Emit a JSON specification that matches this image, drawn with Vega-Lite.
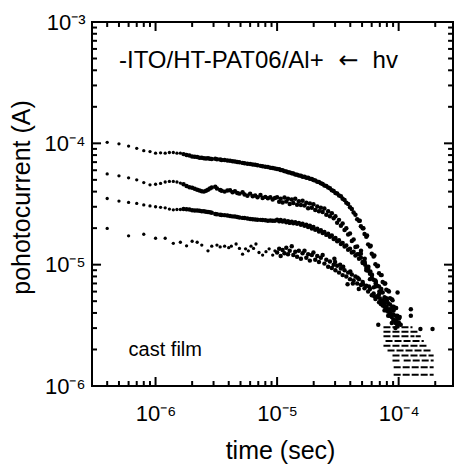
{
"$schema": "https://vega.github.io/schema/vega-lite/v6.json",
"width": 361, "height": 364,
"autosize": {"type": "none"},
"padding": {"left": 92, "top": 22, "right": 7, "bottom": 82},
"background": "white",
"config": {
 "font": "Liberation Sans",
 "view": {"stroke": "black", "strokeWidth": 2, "fill": null},
 "axis": {"domain": false, "grid": false, "ticks": false, "labelColor": "black", "titleColor": "black", "labelFont": "Liberation Sans", "titleFont": "Liberation Sans", "titleFontWeight": "normal", "labelFontSize": 22, "titleFontSize": 25, "labelOverlap": false, "labelBound": false, "labelFlush": false}
},
"datasets": {
 "curves": [
{"s":"A","t":4e-7,"i":1.02e-4},{"s":"A","t":5e-7,"i":9.9e-5},{"s":"A","t":6e-7,"i":9.5e-5},{"s":"A","t":7e-7,"i":9.1e-5},{"s":"A","t":8e-7,"i":8.7e-5},{"s":"A","t":9e-7,"i":8.55e-5},{"s":"A","t":1e-6,"i":8.3e-5},{"s":"A","t":1.1e-6,"i":8.35e-5},{"s":"A","t":1.2e-6,"i":8.3e-5},{"s":"A","t":1.3e-6,"i":8.4e-5},{"s":"A","t":1.4e-6,"i":8.4e-5},{"s":"A","t":1.5e-6,"i":8.3e-5},{"s":"A","t":1.6e-6,"i":8.3e-5},
{"s":"A","t":1.7e-6,"i":8.15e-5},{"s":"A","t":1.8e-6,"i":8.0e-5},{"s":"A","t":1.9e-6,"i":7.95e-5},{"s":"A","t":2.0e-6,"i":7.8e-5},{"s":"A","t":2.1e-6,"i":7.75e-5},{"s":"A","t":2.2e-6,"i":7.7e-5},{"s":"A","t":2.3e-6,"i":7.62e-5},{"s":"A","t":2.4e-6,"i":7.6e-5},{"s":"A","t":2.5e-6,"i":7.55e-5},{"s":"A","t":2.6e-6,"i":7.5e-5},{"s":"A","t":2.7e-6,"i":7.52e-5},{"s":"A","t":2.8e-6,"i":7.45e-5},{"s":"A","t":2.9e-6,"i":7.42e-5},{"s":"A","t":3.1e-6,"i":7.45e-5},{"s":"A","t":3.2e-6,"i":7.38e-5},{"s":"A","t":3.4e-6,"i":7.35e-5},{"s":"A","t":3.5e-6,"i":7.3e-5},{"s":"A","t":3.7e-6,"i":7.28e-5},{"s":"A","t":3.9e-6,"i":7.22e-5},{"s":"A","t":4.1e-6,"i":7.18e-5},{"s":"A","t":4.3e-6,"i":7.12e-5},{"s":"A","t":4.5e-6,"i":7.08e-5},{"s":"A","t":4.7e-6,"i":7.02e-5},{"s":"A","t":4.9e-6,"i":6.98e-5},{"s":"A","t":5.2e-6,"i":6.9e-5},{"s":"A","t":5.4e-6,"i":6.86e-5},{"s":"A","t":5.7e-6,"i":6.8e-5},{"s":"A","t":6.0e-6,"i":6.76e-5},{"s":"A","t":6.3e-6,"i":6.7e-5},{"s":"A","t":6.6e-6,"i":6.65e-5},{"s":"A","t":6.9e-6,"i":6.6e-5},{"s":"A","t":7.3e-6,"i":6.52e-5},{"s":"A","t":7.6e-6,"i":6.48e-5},{"s":"A","t":8.0e-6,"i":6.42e-5},{"s":"A","t":8.4e-6,"i":6.37e-5},{"s":"A","t":8.8e-6,"i":6.3e-5},{"s":"A","t":9.2e-6,"i":6.25e-5},{"s":"A","t":9.6e-6,"i":6.2e-5},
{"s":"A","t":1.0e-5,"i":6.15e-5},{"s":"A","t":1.04e-5,"i":6.12e-5},{"s":"A","t":1.07e-5,"i":6.03e-5},{"s":"A","t":1.11e-5,"i":6.0e-5},{"s":"A","t":1.15e-5,"i":5.9e-5},{"s":"A","t":1.19e-5,"i":5.87e-5},{"s":"A","t":1.23e-5,"i":5.78e-5},{"s":"A","t":1.27e-5,"i":5.75e-5},{"s":"A","t":1.32e-5,"i":5.66e-5},{"s":"A","t":1.36e-5,"i":5.65e-5},{"s":"A","t":1.41e-5,"i":5.53e-5},{"s":"A","t":1.46e-5,"i":5.52e-5},{"s":"A","t":1.51e-5,"i":5.43e-5},{"s":"A","t":1.57e-5,"i":5.4e-5},{"s":"A","t":1.62e-5,"i":5.3e-5},{"s":"A","t":1.68e-5,"i":5.3e-5},{"s":"A","t":1.74e-5,"i":5.2e-5},{"s":"A","t":1.80e-5,"i":5.2e-5},{"s":"A","t":1.86e-5,"i":5.1e-5},{"s":"A","t":1.93e-5,"i":5.08e-5},{"s":"A","t":1.99e-5,"i":4.98e-5},{"s":"A","t":2.06e-5,"i":4.94e-5},{"s":"A","t":2.14e-5,"i":4.83e-5},{"s":"A","t":2.21e-5,"i":4.8e-5},{"s":"A","t":2.29e-5,"i":4.68e-5},{"s":"A","t":2.37e-5,"i":4.62e-5},{"s":"A","t":2.45e-5,"i":4.5e-5},{"s":"A","t":2.54e-5,"i":4.45e-5},{"s":"A","t":2.63e-5,"i":4.32e-5},{"s":"A","t":2.72e-5,"i":4.27e-5},{"s":"A","t":2.82e-5,"i":4.1e-5},{"s":"A","t":2.92e-5,"i":4.05e-5},{"s":"A","t":3.02e-5,"i":3.9e-5},{"s":"A","t":3.12e-5,"i":3.86e-5},{"s":"A","t":3.23e-5,"i":3.72e-5},{"s":"A","t":3.35e-5,"i":3.66e-5},{"s":"A","t":3.46e-5,"i":3.5e-5},{"s":"A","t":3.59e-5,"i":3.41e-5},{"s":"A","t":3.71e-5,"i":3.24e-5},{"s":"A","t":3.84e-5,"i":3.16e-5},{"s":"A","t":3.98e-5,"i":2.97e-5},{"s":"A","t":4.12e-5,"i":2.88e-5},{"s":"A","t":4.26e-5,"i":2.69e-5},{"s":"A","t":4.41e-5,"i":2.58e-5},{"s":"A","t":4.56e-5,"i":2.37e-5},{"s":"A","t":4.72e-5,"i":2.3e-5},{"s":"A","t":4.89e-5,"i":2.07e-5},{"s":"A","t":5.06e-5,"i":2.0e-5},{"s":"A","t":5.24e-5,"i":1.79e-5},{"s":"A","t":5.42e-5,"i":1.7e-5},{"s":"A","t":5.61e-5,"i":1.47e-5},{"s":"A","t":5.81e-5,"i":1.41e-5},{"s":"A","t":6.01e-5,"i":1.23e-5},{"s":"A","t":6.22e-5,"i":1.17e-5},{"s":"A","t":6.44e-5,"i":1.01e-5},{"s":"A","t":6.67e-5,"i":9.7e-6},{"s":"A","t":6.90e-5,"i":8.5e-6},{"s":"A","t":7.14e-5,"i":8.2e-6},{"s":"A","t":7.39e-5,"i":7.2e-6},{"s":"A","t":7.65e-5,"i":7.0e-6},{"s":"A","t":7.92e-5,"i":6.2e-6},{"s":"A","t":8.20e-5,"i":6.1e-6},{"s":"A","t":8.49e-5,"i":5.3e-6},{"s":"A","t":8.78e-5,"i":5.2e-6},{"s":"A","t":9.09e-5,"i":4.5e-6},{"s":"A","t":9.41e-5,"i":4.4e-6},{"s":"A","t":9.74e-5,"i":3.8e-6},{"s":"A","t":1.008e-4,"i":3.6e-6},
{"s":"A","t":4.79e-5,"i":2.3e-5},{"s":"A","t":5.13e-5,"i":2.0e-5},{"s":"A","t":5.5e-5,"i":1.74e-5},{"s":"A","t":5.89e-5,"i":1.43e-5},{"s":"A","t":6.31e-5,"i":1.19e-5},{"s":"A","t":6.76e-5,"i":9.8e-6},{"s":"A","t":7.25e-5,"i":8.2e-6},{"s":"A","t":7.76e-5,"i":7.0e-6},{"s":"A","t":8.32e-5,"i":6.0e-6},{"s":"A","t":8.91e-5,"i":5.1e-6},{"s":"A","t":9.54e-5,"i":4.4e-6},{"s":"A","t":1.02e-4,"i":3.7e-6},
{"s":"B","t":4e-7,"i":5.6e-5},{"s":"B","t":5e-7,"i":5.4e-5},{"s":"B","t":6e-7,"i":5.2e-5},{"s":"B","t":7e-7,"i":5.0e-5},{"s":"B","t":8e-7,"i":4.75e-5},{"s":"B","t":9e-7,"i":4.55e-5},{"s":"B","t":1e-6,"i":4.6e-5},{"s":"B","t":1.1e-6,"i":4.67e-5},{"s":"B","t":1.2e-6,"i":4.8e-5},{"s":"B","t":1.3e-6,"i":4.85e-5},{"s":"B","t":1.4e-6,"i":4.85e-5},{"s":"B","t":1.5e-6,"i":4.8e-5},{"s":"B","t":1.6e-6,"i":4.7e-5},
{"s":"B","t":1.7e-6,"i":4.6e-5},{"s":"B","t":1.8e-6,"i":4.45e-5},{"s":"B","t":1.9e-6,"i":4.35e-5},{"s":"B","t":2.0e-6,"i":4.3e-5},{"s":"B","t":2.1e-6,"i":4.22e-5},{"s":"B","t":2.2e-6,"i":4.15e-5},{"s":"B","t":2.3e-6,"i":4.08e-5},{"s":"B","t":2.4e-6,"i":4.02e-5},{"s":"B","t":2.5e-6,"i":4.0e-5},{"s":"B","t":2.6e-6,"i":4.06e-5},{"s":"B","t":2.7e-6,"i":4.14e-5},{"s":"B","t":2.8e-6,"i":4.25e-5},{"s":"B","t":2.9e-6,"i":4.32e-5},{"s":"B","t":3.1e-6,"i":4.38e-5},{"s":"B","t":3.2e-6,"i":4.25e-5},{"s":"B","t":3.4e-6,"i":4.12e-5},{"s":"B","t":3.5e-6,"i":4.06e-5},{"s":"B","t":3.7e-6,"i":4.0e-5},{"s":"B","t":3.9e-6,"i":4.08e-5},{"s":"B","t":4.1e-6,"i":4.1e-5},{"s":"B","t":4.3e-6,"i":3.95e-5},{"s":"B","t":4.5e-6,"i":4.02e-5},{"s":"B","t":4.7e-6,"i":3.9e-5},{"s":"B","t":4.9e-6,"i":3.85e-5},{"s":"B","t":5.2e-6,"i":3.95e-5},{"s":"B","t":5.4e-6,"i":3.78e-5},{"s":"B","t":5.7e-6,"i":3.7e-5},{"s":"B","t":6.0e-6,"i":3.85e-5},{"s":"B","t":6.3e-6,"i":3.66e-5},{"s":"B","t":6.6e-6,"i":3.72e-5},{"s":"B","t":6.9e-6,"i":3.6e-5},{"s":"B","t":7.3e-6,"i":3.75e-5},{"s":"B","t":7.6e-6,"i":3.55e-5},{"s":"B","t":8.0e-6,"i":3.62e-5},{"s":"B","t":8.4e-6,"i":3.52e-5},{"s":"B","t":8.8e-6,"i":3.6e-5},{"s":"B","t":9.2e-6,"i":3.45e-5},{"s":"B","t":9.6e-6,"i":3.55e-5},
{"s":"B","t":1.0e-5,"i":3.59e-5},{"s":"B","t":1.04e-5,"i":3.3e-5},{"s":"B","t":1.07e-5,"i":3.5e-5},{"s":"B","t":1.11e-5,"i":3.25e-5},{"s":"B","t":1.15e-5,"i":3.57e-5},{"s":"B","t":1.19e-5,"i":3.32e-5},{"s":"B","t":1.23e-5,"i":3.5e-5},{"s":"B","t":1.27e-5,"i":3.16e-5},{"s":"B","t":1.32e-5,"i":3.44e-5},{"s":"B","t":1.36e-5,"i":3.22e-5},{"s":"B","t":1.41e-5,"i":3.5e-5},{"s":"B","t":1.46e-5,"i":3.12e-5},{"s":"B","t":1.51e-5,"i":3.33e-5},{"s":"B","t":1.57e-5,"i":3.1e-5},{"s":"B","t":1.62e-5,"i":3.37e-5},{"s":"B","t":1.68e-5,"i":3.08e-5},{"s":"B","t":1.74e-5,"i":3.24e-5},{"s":"B","t":1.80e-5,"i":2.92e-5},{"s":"B","t":1.86e-5,"i":3.2e-5},{"s":"B","t":1.93e-5,"i":2.95e-5},{"s":"B","t":1.99e-5,"i":3.15e-5},{"s":"B","t":2.06e-5,"i":2.82e-5},{"s":"B","t":2.14e-5,"i":3.01e-5},{"s":"B","t":2.21e-5,"i":2.76e-5},{"s":"B","t":2.29e-5,"i":2.95e-5},{"s":"B","t":2.37e-5,"i":2.72e-5},{"s":"B","t":2.45e-5,"i":2.9e-5},{"s":"B","t":2.54e-5,"i":2.58e-5},{"s":"B","t":2.63e-5,"i":2.75e-5},{"s":"B","t":2.72e-5,"i":2.51e-5},{"s":"B","t":2.82e-5,"i":2.65e-5},{"s":"B","t":2.92e-5,"i":2.41e-5},{"s":"B","t":3.02e-5,"i":2.51e-5},{"s":"B","t":3.12e-5,"i":2.22e-5},{"s":"B","t":3.23e-5,"i":2.34e-5},{"s":"B","t":3.35e-5,"i":2.09e-5},{"s":"B","t":3.46e-5,"i":2.18e-5},{"s":"B","t":3.59e-5,"i":1.93e-5},{"s":"B","t":3.71e-5,"i":2.0e-5},{"s":"B","t":3.84e-5,"i":1.77e-5},{"s":"B","t":3.98e-5,"i":1.81e-5},{"s":"B","t":4.12e-5,"i":1.57e-5},{"s":"B","t":4.26e-5,"i":1.61e-5},{"s":"B","t":4.41e-5,"i":1.4e-5},{"s":"B","t":4.56e-5,"i":1.41e-5},{"s":"B","t":4.72e-5,"i":1.22e-5},{"s":"B","t":4.89e-5,"i":1.23e-5},{"s":"B","t":5.06e-5,"i":1.05e-5},{"s":"B","t":5.24e-5,"i":1.05e-5},{"s":"B","t":5.42e-5,"i":9.0e-6},{"s":"B","t":5.61e-5,"i":8.9e-6},{"s":"B","t":5.81e-5,"i":7.6e-6},{"s":"B","t":6.01e-5,"i":7.8e-6},{"s":"B","t":6.22e-5,"i":6.5e-6},{"s":"B","t":6.44e-5,"i":6.6e-6},{"s":"B","t":6.67e-5,"i":5.5e-6},{"s":"B","t":6.90e-5,"i":5.7e-6},{"s":"B","t":7.14e-5,"i":4.75e-6},{"s":"B","t":7.39e-5,"i":4.9e-6},{"s":"B","t":7.65e-5,"i":4.2e-6},{"s":"B","t":7.92e-5,"i":4.4e-6},{"s":"B","t":8.20e-5,"i":3.8e-6},{"s":"B","t":8.49e-5,"i":4.0e-6},{"s":"B","t":8.78e-5,"i":3.3e-6},{"s":"B","t":9.09e-5,"i":3.5e-6},{"s":"B","t":9.41e-5,"i":3.0e-6},{"s":"B","t":9.74e-5,"i":3.1e-6},
{"s":"B","t":4.9e-5,"i":1.3e-5},{"s":"B","t":5.26e-5,"i":1.12e-5},{"s":"B","t":5.64e-5,"i":9.6e-6},{"s":"B","t":6.04e-5,"i":8.2e-6},{"s":"B","t":6.47e-5,"i":7.0e-6},{"s":"B","t":6.94e-5,"i":6.0e-6},{"s":"B","t":7.43e-5,"i":5.1e-6},{"s":"B","t":7.96e-5,"i":4.5e-6},{"s":"B","t":8.53e-5,"i":4.0e-6},{"s":"B","t":9.13e-5,"i":3.5e-6},{"s":"B","t":9.79e-5,"i":3.2e-6},
{"s":"C","t":4e-7,"i":3.51e-5},{"s":"C","t":5e-7,"i":3.34e-5},{"s":"C","t":6e-7,"i":3.26e-5},{"s":"C","t":7e-7,"i":3.2e-5},{"s":"C","t":8e-7,"i":3.11e-5},{"s":"C","t":9e-7,"i":3.05e-5},{"s":"C","t":1e-6,"i":3.0e-5},{"s":"C","t":1.1e-6,"i":2.97e-5},{"s":"C","t":1.2e-6,"i":2.94e-5},{"s":"C","t":1.3e-6,"i":2.87e-5},{"s":"C","t":1.4e-6,"i":2.83e-5},{"s":"C","t":1.5e-6,"i":2.85e-5},{"s":"C","t":1.6e-6,"i":2.85e-5},
{"s":"C","t":1.7e-6,"i":2.87e-5},{"s":"C","t":1.8e-6,"i":2.86e-5},{"s":"C","t":1.9e-6,"i":2.85e-5},{"s":"C","t":2.0e-6,"i":2.81e-5},{"s":"C","t":2.1e-6,"i":2.8e-5},{"s":"C","t":2.2e-6,"i":2.8e-5},{"s":"C","t":2.3e-6,"i":2.78e-5},{"s":"C","t":2.4e-6,"i":2.76e-5},{"s":"C","t":2.5e-6,"i":2.75e-5},{"s":"C","t":2.6e-6,"i":2.73e-5},{"s":"C","t":2.7e-6,"i":2.72e-5},{"s":"C","t":2.8e-6,"i":2.7e-5},{"s":"C","t":2.9e-6,"i":2.68e-5},{"s":"C","t":3.1e-6,"i":2.62e-5},{"s":"C","t":3.2e-6,"i":2.6e-5},{"s":"C","t":3.4e-6,"i":2.58e-5},{"s":"C","t":3.5e-6,"i":2.57e-5},{"s":"C","t":3.7e-6,"i":2.56e-5},{"s":"C","t":3.9e-6,"i":2.54e-5},{"s":"C","t":4.1e-6,"i":2.52e-5},{"s":"C","t":4.3e-6,"i":2.5e-5},{"s":"C","t":4.5e-6,"i":2.49e-5},{"s":"C","t":4.7e-6,"i":2.47e-5},{"s":"C","t":4.9e-6,"i":2.45e-5},{"s":"C","t":5.2e-6,"i":2.43e-5},{"s":"C","t":5.4e-6,"i":2.42e-5},{"s":"C","t":5.7e-6,"i":2.4e-5},{"s":"C","t":6.0e-6,"i":2.38e-5},{"s":"C","t":6.3e-6,"i":2.37e-5},{"s":"C","t":6.6e-6,"i":2.36e-5},{"s":"C","t":6.9e-6,"i":2.35e-5},{"s":"C","t":7.3e-6,"i":2.34e-5},{"s":"C","t":7.6e-6,"i":2.33e-5},{"s":"C","t":8.0e-6,"i":2.32e-5},{"s":"C","t":8.4e-6,"i":2.3e-5},{"s":"C","t":8.8e-6,"i":2.31e-5},{"s":"C","t":9.2e-6,"i":2.3e-5},{"s":"C","t":9.6e-6,"i":2.3e-5},
{"s":"C","t":1.0e-5,"i":2.35e-5},{"s":"C","t":1.04e-5,"i":2.28e-5},{"s":"C","t":1.07e-5,"i":2.33e-5},{"s":"C","t":1.11e-5,"i":2.27e-5},{"s":"C","t":1.15e-5,"i":2.31e-5},{"s":"C","t":1.19e-5,"i":2.24e-5},{"s":"C","t":1.23e-5,"i":2.28e-5},{"s":"C","t":1.27e-5,"i":2.21e-5},{"s":"C","t":1.32e-5,"i":2.26e-5},{"s":"C","t":1.36e-5,"i":2.19e-5},{"s":"C","t":1.41e-5,"i":2.24e-5},{"s":"C","t":1.46e-5,"i":2.17e-5},{"s":"C","t":1.51e-5,"i":2.21e-5},{"s":"C","t":1.57e-5,"i":2.13e-5},{"s":"C","t":1.62e-5,"i":2.17e-5},{"s":"C","t":1.68e-5,"i":2.09e-5},{"s":"C","t":1.74e-5,"i":2.13e-5},{"s":"C","t":1.80e-5,"i":2.04e-5},{"s":"C","t":1.86e-5,"i":2.09e-5},{"s":"C","t":1.93e-5,"i":1.99e-5},{"s":"C","t":1.99e-5,"i":2.04e-5},{"s":"C","t":2.06e-5,"i":1.94e-5},{"s":"C","t":2.14e-5,"i":1.98e-5},{"s":"C","t":2.21e-5,"i":1.88e-5},{"s":"C","t":2.29e-5,"i":1.92e-5},{"s":"C","t":2.37e-5,"i":1.82e-5},{"s":"C","t":2.45e-5,"i":1.86e-5},{"s":"C","t":2.54e-5,"i":1.76e-5},{"s":"C","t":2.63e-5,"i":1.8e-5},{"s":"C","t":2.72e-5,"i":1.7e-5},{"s":"C","t":2.82e-5,"i":1.74e-5},{"s":"C","t":2.92e-5,"i":1.63e-5},{"s":"C","t":3.02e-5,"i":1.66e-5},{"s":"C","t":3.12e-5,"i":1.56e-5},{"s":"C","t":3.23e-5,"i":1.59e-5},{"s":"C","t":3.35e-5,"i":1.48e-5},{"s":"C","t":3.46e-5,"i":1.51e-5},{"s":"C","t":3.59e-5,"i":1.41e-5},{"s":"C","t":3.71e-5,"i":1.44e-5},{"s":"C","t":3.84e-5,"i":1.33e-5},{"s":"C","t":3.98e-5,"i":1.35e-5},{"s":"C","t":4.12e-5,"i":1.26e-5},{"s":"C","t":4.26e-5,"i":1.28e-5},{"s":"C","t":4.41e-5,"i":1.19e-5},{"s":"C","t":4.56e-5,"i":1.22e-5},{"s":"C","t":4.72e-5,"i":1.12e-5},{"s":"C","t":4.89e-5,"i":1.14e-5},{"s":"C","t":5.06e-5,"i":1.03e-5},{"s":"C","t":5.24e-5,"i":1.04e-5},{"s":"C","t":5.42e-5,"i":9.4e-6},{"s":"C","t":5.61e-5,"i":9.3e-6},{"s":"C","t":5.81e-5,"i":8.4e-6},{"s":"C","t":6.01e-5,"i":8.3e-6},{"s":"C","t":6.22e-5,"i":7.5e-6},{"s":"C","t":6.44e-5,"i":7.4e-6},{"s":"C","t":6.67e-5,"i":6.7e-6},{"s":"C","t":6.90e-5,"i":6.6e-6},{"s":"C","t":7.14e-5,"i":6.0e-6},{"s":"C","t":7.39e-5,"i":5.9e-6},{"s":"C","t":7.65e-5,"i":5.4e-6},{"s":"C","t":7.92e-5,"i":5.3e-6},{"s":"C","t":8.20e-5,"i":4.8e-6},{"s":"C","t":8.49e-5,"i":4.7e-6},{"s":"C","t":8.78e-5,"i":4.3e-6},{"s":"C","t":9.09e-5,"i":4.2e-6},{"s":"C","t":9.41e-5,"i":3.8e-6},{"s":"C","t":9.74e-5,"i":3.7e-6},{"s":"C","t":1.008e-4,"i":3.3e-6},
{"s":"C","t":5.3e-5,"i":1.0e-5},{"s":"C","t":5.85e-5,"i":8.8e-6},{"s":"C","t":6.5e-5,"i":7.2e-6},{"s":"C","t":7.2e-5,"i":6.3e-6},{"s":"C","t":8.0e-5,"i":5.1e-6},{"s":"C","t":8.85e-5,"i":4.5e-6},{"s":"C","t":9.8e-5,"i":3.6e-6},{"s":"C","t":1.04e-4,"i":3.2e-6},
{"s":"D","t":4e-7,"i":1.99e-5},{"s":"D","t":6e-7,"i":1.73e-5},{"s":"D","t":8e-7,"i":1.78e-5},{"s":"D","t":1.0e-6,"i":1.65e-5},{"s":"D","t":1.2e-6,"i":1.65e-5},{"s":"D","t":1.4e-6,"i":1.5e-5},{"s":"D","t":1.6e-6,"i":1.53e-5},{"s":"D","t":1.8e-6,"i":1.43e-5},{"s":"D","t":2.0e-6,"i":1.56e-5},{"s":"D","t":2.2e-6,"i":1.53e-5},{"s":"D","t":2.4e-6,"i":1.45e-5},{"s":"D","t":2.7e-6,"i":1.3e-5},{"s":"D","t":2.9e-6,"i":1.42e-5},{"s":"D","t":3.2e-6,"i":1.45e-5},{"s":"D","t":3.4e-6,"i":1.4e-5},{"s":"D","t":3.7e-6,"i":1.42e-5},{"s":"D","t":4.0e-6,"i":1.38e-5},{"s":"D","t":4.2e-6,"i":1.42e-5},{"s":"D","t":4.6e-6,"i":1.48e-5},{"s":"D","t":4.9e-6,"i":1.36e-5},{"s":"D","t":5.2e-6,"i":1.22e-5},{"s":"D","t":5.5e-6,"i":1.35e-5},{"s":"D","t":5.8e-6,"i":1.3e-5},{"s":"D","t":6.1e-6,"i":1.42e-5},{"s":"D","t":6.4e-6,"i":1.36e-5},{"s":"D","t":6.7e-6,"i":1.48e-5},{"s":"D","t":7.1e-6,"i":1.26e-5},{"s":"D","t":7.6e-6,"i":1.2e-5},{"s":"D","t":8.1e-6,"i":1.28e-5},{"s":"D","t":8.6e-6,"i":1.35e-5},{"s":"D","t":9.2e-6,"i":1.2e-5},{"s":"D","t":9.6e-6,"i":1.3e-5},
{"s":"D","t":1.0e-5,"i":1.26e-5},{"s":"D","t":1.04e-5,"i":1.35e-5},{"s":"D","t":1.07e-5,"i":1.18e-5},{"s":"D","t":1.11e-5,"i":1.32e-5},{"s":"D","t":1.15e-5,"i":1.24e-5},{"s":"D","t":1.19e-5,"i":1.38e-5},{"s":"D","t":1.23e-5,"i":1.22e-5},{"s":"D","t":1.27e-5,"i":1.3e-5},{"s":"D","t":1.32e-5,"i":1.42e-5},{"s":"D","t":1.36e-5,"i":1.2e-5},{"s":"D","t":1.41e-5,"i":1.28e-5},{"s":"D","t":1.46e-5,"i":1.16e-5},{"s":"D","t":1.51e-5,"i":1.3e-5},{"s":"D","t":1.57e-5,"i":1.12e-5},{"s":"D","t":1.62e-5,"i":1.24e-5},{"s":"D","t":1.68e-5,"i":1.3e-5},{"s":"D","t":1.74e-5,"i":1.14e-5},{"s":"D","t":1.80e-5,"i":1.22e-5},{"s":"D","t":1.86e-5,"i":1.08e-5},{"s":"D","t":1.93e-5,"i":1.2e-5},{"s":"D","t":1.99e-5,"i":1.26e-5},{"s":"D","t":2.06e-5,"i":1.1e-5},{"s":"D","t":2.14e-5,"i":1.18e-5},{"s":"D","t":2.21e-5,"i":1.05e-5},{"s":"D","t":2.29e-5,"i":1.14e-5},{"s":"D","t":2.37e-5,"i":1.2e-5},{"s":"D","t":2.45e-5,"i":1.02e-5},{"s":"D","t":2.54e-5,"i":1.1e-5},{"s":"D","t":2.63e-5,"i":9.6e-6},{"s":"D","t":2.72e-5,"i":1.06e-5},{"s":"D","t":2.82e-5,"i":9.4e-6},{"s":"D","t":2.92e-5,"i":1.0e-5},{"s":"D","t":2.96e-5,"i":1.12e-5},{"s":"D","t":3.02e-5,"i":9.0e-6},{"s":"D","t":3.12e-5,"i":9.8e-6},{"s":"D","t":3.23e-5,"i":8.6e-6},{"s":"D","t":3.30e-5,"i":1.0e-5},{"s":"D","t":3.35e-5,"i":9.3e-6},{"s":"D","t":3.46e-5,"i":8.2e-6},{"s":"D","t":3.59e-5,"i":9.0e-6},{"s":"D","t":3.71e-5,"i":8.0e-6},{"s":"D","t":3.80e-5,"i":6.9e-6},{"s":"D","t":3.84e-5,"i":8.6e-6},{"s":"D","t":3.98e-5,"i":7.6e-6},{"s":"D","t":4.12e-5,"i":8.3e-6},{"s":"D","t":4.20e-5,"i":7.0e-6},{"s":"D","t":4.26e-5,"i":7.4e-6},{"s":"D","t":4.41e-5,"i":8.0e-6},{"s":"D","t":4.56e-5,"i":7.0e-6},{"s":"D","t":4.70e-5,"i":6.3e-6},{"s":"D","t":4.72e-5,"i":7.6e-6},{"s":"D","t":4.89e-5,"i":6.8e-6},{"s":"D","t":5.06e-5,"i":7.2e-6},{"s":"D","t":5.24e-5,"i":6.4e-6},{"s":"D","t":5.42e-5,"i":6.7e-6},{"s":"D","t":5.61e-5,"i":6.0e-6},{"s":"D","t":5.81e-5,"i":6.3e-6},{"s":"D","t":6.01e-5,"i":5.6e-6},{"s":"D","t":6.22e-5,"i":5.8e-6},{"s":"D","t":6.44e-5,"i":5.2e-6},{"s":"D","t":6.67e-5,"i":5.4e-6},{"s":"D","t":6.80e-5,"i":3.2e-6},{"s":"D","t":6.90e-5,"i":4.9e-6},{"s":"D","t":7.14e-5,"i":5.0e-6},{"s":"D","t":7.39e-5,"i":4.6e-6},{"s":"D","t":7.65e-5,"i":4.5e-6},{"s":"D","t":7.92e-5,"i":4.2e-6},{"s":"D","t":8.20e-5,"i":4.1e-6},{"s":"D","t":8.49e-5,"i":3.8e-6},{"s":"D","t":8.78e-5,"i":3.7e-6},{"s":"D","t":9.09e-5,"i":3.5e-6},{"s":"D","t":9.41e-5,"i":3.3e-6},
{"s":"D","t":3.0e-5,"i":1.05e-5},{"s":"D","t":3.5e-5,"i":9.6e-6},{"s":"D","t":4.0e-5,"i":8.8e-6},{"s":"D","t":4.6e-5,"i":7.8e-6},{"s":"D","t":5.1e-5,"i":6.9e-6},{"s":"D","t":5.7e-5,"i":6.6e-6},{"s":"D","t":6.3e-5,"i":5.5e-6},{"s":"D","t":7.0e-5,"i":5.3e-6},{"s":"D","t":7.7e-5,"i":4.8e-6},{"s":"D","t":8.4e-5,"i":4.3e-6},{"s":"D","t":9.0e-5,"i":3.9e-6},{"s":"D","t":9.6e-5,"i":3.4e-6},
{"s":"D","t":9.80e-5,"i":5.9e-6},{"s":"D","t":1.26e-4,"i":4.3e-6},{"s":"D","t":1.26e-4,"i":3.8e-6},{"s":"D","t":1.51e-4,"i":2.95e-6},{"s":"D","t":1.90e-4,"i":2.95e-6}
 ],
 "bands": [
{"lv":3.05e-6,"a":7.5e-5,"b":1.3e-4},
{"lv":2.8e-6,"a":7.5e-5,"b":1.43e-4},
{"lv":2.57e-6,"a":7.5e-5,"b":1.35e-4},{"lv":2.57e-6,"a":1.38e-4,"b":1.52e-4},
{"lv":2.35e-6,"a":7.8e-5,"b":1.61e-4},
{"lv":2.15e-6,"a":7.5e-5,"b":1.73e-4},
{"lv":1.96e-6,"a":8.1e-5,"b":1.83e-4},
{"lv":1.78e-6,"a":8.9e-5,"b":1.94e-4},
{"lv":1.62e-6,"a":8.9e-5,"b":1.05e-4},{"lv":1.62e-6,"a":1.1e-4,"b":1.94e-4},
{"lv":1.43e-6,"a":9.1e-5,"b":1.94e-4},
{"lv":1.24e-6,"a":9.1e-5,"b":1.94e-4}
 ],
 "ticksX": [
{"v":4e-7,"k":"minor"},{"v":5e-7,"k":"minor"},{"v":6e-7,"k":"minor"},{"v":7e-7,"k":"minor"},{"v":8e-7,"k":"minor"},{"v":9e-7,"k":"minor"},{"v":1e-6,"k":"major"},
{"v":2e-6,"k":"minor"},{"v":3e-6,"k":"minor"},{"v":4e-6,"k":"minor"},{"v":5e-6,"k":"minor"},{"v":6e-6,"k":"minor"},{"v":7e-6,"k":"minor"},{"v":8e-6,"k":"minor"},{"v":9e-6,"k":"minor"},{"v":1e-5,"k":"major"},
{"v":2e-5,"k":"minor"},{"v":3e-5,"k":"minor"},{"v":4e-5,"k":"minor"},{"v":5e-5,"k":"minor"},{"v":6e-5,"k":"minor"},{"v":7e-5,"k":"minor"},{"v":8e-5,"k":"minor"},{"v":9e-5,"k":"minor"},{"v":1e-4,"k":"major"},{"v":2e-4,"k":"minor"}
 ],
 "ticksY": [
{"v":2e-6,"k":"minor"},{"v":3e-6,"k":"minor"},{"v":4e-6,"k":"minor"},{"v":5e-6,"k":"minor"},{"v":6e-6,"k":"minor"},{"v":7e-6,"k":"minor"},{"v":8e-6,"k":"minor"},{"v":9e-6,"k":"minor"},{"v":1e-5,"k":"major"},
{"v":2e-5,"k":"minor"},{"v":3e-5,"k":"minor"},{"v":4e-5,"k":"minor"},{"v":5e-5,"k":"minor"},{"v":6e-5,"k":"minor"},{"v":7e-5,"k":"minor"},{"v":8e-5,"k":"minor"},{"v":9e-5,"k":"minor"},{"v":1e-4,"k":"major"},
{"v":2e-4,"k":"minor"},{"v":3e-4,"k":"minor"},{"v":4e-4,"k":"minor"},{"v":5e-4,"k":"minor"},{"v":6e-4,"k":"minor"},{"v":7e-4,"k":"minor"},{"v":8e-4,"k":"minor"},{"v":9e-4,"k":"minor"}
 ],
 "notes": [
{"t":5e-7,"i":4.2e-4,"txt":"-ITO/HT-PAT06/Al+"},
{"t":6.1e-5,"i":4.2e-4,"txt":"hv"}
 ],
 "arrow": [
{"t":3.2e-5,"i":4.2e-4,"txt":"←"}
 ],
 "notes2": [
{"t":6.0e-7,"i":1.78e-6,"txt":"cast film"}
 ]
},
"layer": [
 {
  "data": {"name": "curves"},
  "transform": [{"filter": "(datum.s != 'D' && datum.t >= 1.65e-6) || datum.t >= 9.9e-6"}],
  "mark": {"type": "point", "filled": true, "size": 20, "opacity": 1, "color": "black"},
  "encoding": {
   "x": {"field": "t", "type": "quantitative", "scale": {"type": "log", "domain": [3e-7, 2.8e-4], "nice": false},
    "axis": {"orient": "bottom", "title": "time (sec)", "values": [1e-6,1e-5,1e-4],
     "labelExpr": "datum.value == 1e-6 ? '10⁻⁶' : datum.value == 1e-5 ? '10⁻⁵' : datum.value == 1e-4 ? '10⁻⁴' : ''",
     "labelPadding": 17, "titlePadding": 14, "titleX": 188}},
   "y": {"field": "i", "type": "quantitative", "scale": {"type": "log", "domain": [1e-6, 1e-3], "nice": false},
    "axis": {"orient": "left", "title": "pohotocurrent (A)", "values": [1e-6,1e-5,1e-4,1e-3],
     "labelExpr": "datum.value == 1e-6 ? '10⁻⁶' : datum.value == 1e-5 ? '10⁻⁵' : datum.value == 1e-4 ? '10⁻⁴' : datum.value == 1e-3 ? '10⁻³' : ''",
     "labelPadding": 7, "titleX": -58, "titleY": 175}}
  }
 },
 {
  "data": {"name": "curves"},
  "transform": [{"filter": "!((datum.s != 'D' && datum.t >= 1.65e-6) || datum.t >= 9.9e-6)"}],
  "mark": {"type": "point", "filled": true, "size": 11, "opacity": 1, "color": "black"},
  "encoding": {
   "x": {"field": "t", "type": "quantitative", "axis": null},
   "y": {"field": "i", "type": "quantitative", "axis": null}
  }
 },
 {
  "data": {"name": "bands"},
  "mark": {"type": "rule", "color": "black", "strokeWidth": 2, "strokeDash": [7, 2]},
  "encoding": {
   "x": {"field": "a", "type": "quantitative", "axis": null},
   "x2": {"field": "b"},
   "y": {"field": "lv", "type": "quantitative", "axis": null}
  }
 },
 {
  "data": {"name": "ticksX"},
  "transform": [{"filter": "datum.k == 'major'"}],
  "mark": {"type": "rule", "color": "black", "strokeWidth": 2},
  "encoding": {"x": {"field": "v", "type": "quantitative", "axis": null}, "y": {"datum": 1e-6, "type": "quantitative", "axis": null}, "y2": {"datum": 1.186e-6}}
 },
 {
  "data": {"name": "ticksX"},
  "transform": [{"filter": "datum.k == 'minor'"}],
  "mark": {"type": "rule", "color": "black", "strokeWidth": 2},
  "encoding": {"x": {"field": "v", "type": "quantitative", "axis": null}, "y": {"datum": 1e-6, "type": "quantitative", "axis": null}, "y2": {"datum": 1.099e-6}}
 },
 {
  "data": {"name": "ticksX"},
  "transform": [{"filter": "datum.k == 'major'"}],
  "mark": {"type": "rule", "color": "black", "strokeWidth": 2},
  "encoding": {"x": {"field": "v", "type": "quantitative", "axis": null}, "y": {"datum": 1e-3, "type": "quantitative", "axis": null}, "y2": {"datum": 8.43e-4}}
 },
 {
  "data": {"name": "ticksX"},
  "transform": [{"filter": "datum.k == 'minor'"}],
  "mark": {"type": "rule", "color": "black", "strokeWidth": 2},
  "encoding": {"x": {"field": "v", "type": "quantitative", "axis": null}, "y": {"datum": 1e-3, "type": "quantitative", "axis": null}, "y2": {"datum": 9.1e-4}}
 },
 {
  "data": {"name": "ticksY"},
  "transform": [{"filter": "datum.k == 'major'"}],
  "mark": {"type": "rule", "color": "black", "strokeWidth": 2},
  "encoding": {"y": {"field": "v", "type": "quantitative", "axis": null}, "x": {"datum": 3e-7, "type": "quantitative", "axis": null}, "x2": {"datum": 3.56e-7}}
 },
 {
  "data": {"name": "ticksY"},
  "transform": [{"filter": "datum.k == 'minor'"}],
  "mark": {"type": "rule", "color": "black", "strokeWidth": 2},
  "encoding": {"y": {"field": "v", "type": "quantitative", "axis": null}, "x": {"datum": 3e-7, "type": "quantitative", "axis": null}, "x2": {"datum": 3.3e-7}}
 },
 {
  "data": {"name": "ticksY"},
  "transform": [{"filter": "datum.k == 'major'"}],
  "mark": {"type": "rule", "color": "black", "strokeWidth": 2},
  "encoding": {"y": {"field": "v", "type": "quantitative", "axis": null}, "x": {"datum": 2.8e-4, "type": "quantitative", "axis": null}, "x2": {"datum": 2.36e-4}}
 },
 {
  "data": {"name": "ticksY"},
  "transform": [{"filter": "datum.k == 'minor'"}],
  "mark": {"type": "rule", "color": "black", "strokeWidth": 2},
  "encoding": {"y": {"field": "v", "type": "quantitative", "axis": null}, "x": {"datum": 2.8e-4, "type": "quantitative", "axis": null}, "x2": {"datum": 2.55e-4}}
 },
 {
  "data": {"name": "notes"},
  "mark": {"type": "text", "align": "left", "baseline": "alphabetic", "fontSize": 24, "font": "Liberation Sans", "color": "black"},
  "encoding": {
   "x": {"field": "t", "type": "quantitative", "axis": null},
   "y": {"field": "i", "type": "quantitative", "axis": null},
   "text": {"field": "txt"}
  }
 },
 {
  "data": {"name": "arrow"},
  "mark": {"type": "text", "align": "left", "baseline": "alphabetic", "fontSize": 24, "font": "DejaVu Sans", "color": "black"},
  "encoding": {
   "x": {"field": "t", "type": "quantitative", "axis": null},
   "y": {"field": "i", "type": "quantitative", "axis": null},
   "text": {"field": "txt"}
  }
 },
 {
  "data": {"name": "notes2"},
  "mark": {"type": "text", "align": "left", "baseline": "alphabetic", "fontSize": 20, "font": "Liberation Sans", "color": "black"},
  "encoding": {
   "x": {"field": "t", "type": "quantitative", "axis": null},
   "y": {"field": "i", "type": "quantitative", "axis": null},
   "text": {"field": "txt"}
  }
 }
],
"resolve": {"axis": {"x": "independent", "y": "independent"}}
}
